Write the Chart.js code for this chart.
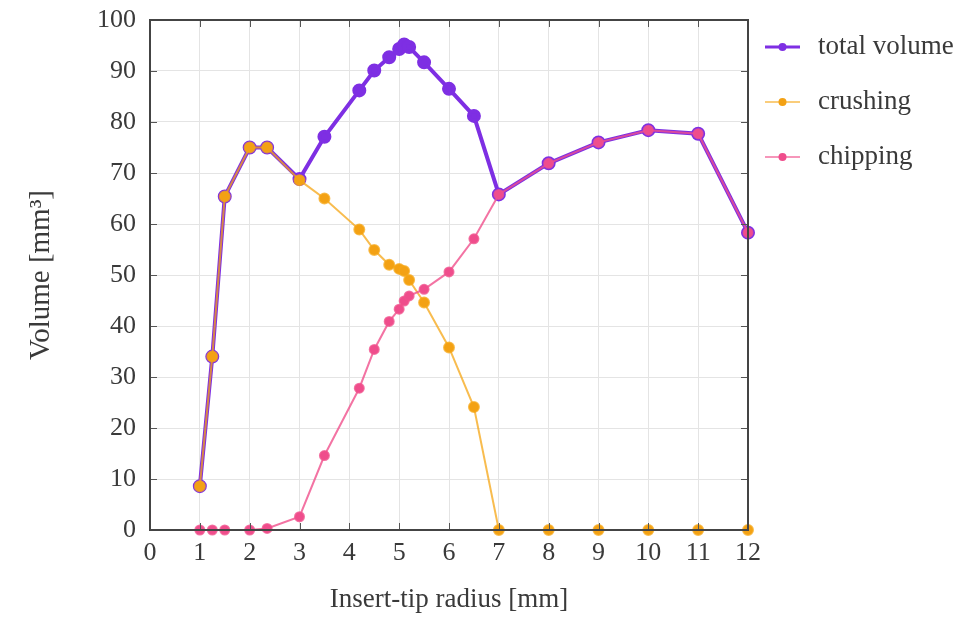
<!DOCTYPE html>
<html>
<head>
<meta charset="utf-8">
<script src="https://cdn.jsdelivr.net/npm/chart.js@4"></script>
<style>
  html, body { margin: 0; padding: 0; background: #ffffff; }
  #wrap { width: 968px; height: 618px; }
</style>
</head>
<body>
<div id="wrap"><canvas id="volChart" width="968" height="618"></canvas></div>
<script>
// insert-tip radius [mm] for every measured point
const radii = [1, 1.25, 1.5, 2, 2.35, 3, 3.5, 4.2, 4.5, 4.8, 5, 5.1, 5.2, 5.5, 6, 6.5, 7, 8, 9, 10, 11, 12];

// volumes [mm^3]
const totalVolume = [8.6, 34, 65.4, 75, 75, 68.8, 77.1, 86.2, 90.1, 92.7, 94.3, 95.2, 94.7, 91.7, 86.5, 81.2, 65.8, 71.9, 76.0, 78.4, 77.7, 58.3];
const crushing    = [8.6, 34, 65.4, 75, 75, 68.6, 65.0, 58.9, 54.9, 52.0, 51.2, 50.8, 49.0, 44.6, 35.8, 24.1, 0, 0, 0, 0, 0, 0];
const chipping    = [0, 0, 0, 0, 0.3, 2.6, 14.6, 27.8, 35.4, 40.9, 43.3, 44.9, 45.9, 47.2, 50.6, 57.1, 65.8, 71.9, 76.0, 78.4, 77.7, 58.3];

const seriesNames = ['total volume', 'crushing', 'chipping'];
const xTicks = [0, 1, 2, 3, 4, 5, 6, 7, 8, 9, 10, 11, 12];
const yTicks = [0, 10, 20, 30, 40, 50, 60, 70, 80, 90, 100];

const FONT = '"Liberation Serif", "DejaVu Serif", serif';
const TEXT = '#3a3a3a';

function toPoints(values) {
    return values.map((v, i) => ({ x: radii[i], y: v }));
}

// frame round the plot plus gnuplot-like inward ticks
const frameAndTicks = {
    id: 'frameAndTicks',
    afterDatasetsDraw(chart) {
        const { ctx, chartArea: a, scales } = chart;
        ctx.save();
        ctx.strokeStyle = '#555';
        ctx.lineWidth = 1;
        xTicks.forEach(t => {
            const px = Math.round(scales.x.getPixelForValue(t)) + 0.5;
            ctx.beginPath();
            ctx.moveTo(px, a.bottom); ctx.lineTo(px, a.bottom - 7);
            ctx.moveTo(px, a.top); ctx.lineTo(px, a.top + 7);
            ctx.stroke();
        });
        yTicks.forEach(t => {
            const py = Math.round(scales.y.getPixelForValue(t)) + 0.5;
            ctx.beginPath();
            ctx.moveTo(a.left, py); ctx.lineTo(a.left + 7, py);
            ctx.moveTo(a.right, py); ctx.lineTo(a.right - 7, py);
            ctx.stroke();
        });
        ctx.lineWidth = 2;
        ctx.strokeStyle = '#444';
        ctx.strokeRect(a.left, a.top, a.right - a.left, a.bottom - a.top);
        ctx.restore();
    }
};

// legend on the right with a line + dot sample for each series
const sideLegend = {
    id: 'sideLegend',
    afterDraw(chart) {
        const { ctx } = chart;
        ctx.save();
        ctx.font = '27px ' + FONT;
        ctx.textBaseline = 'middle';
        chart.data.datasets.forEach((ds, i) => {
            const y = 47 + i * 55;
            const x0 = 765;
            ctx.strokeStyle = ds.borderColor;
            ctx.lineWidth = ds.legendLine;
            ctx.beginPath();
            ctx.moveTo(x0, y); ctx.lineTo(x0 + 35, y);
            ctx.stroke();
            ctx.fillStyle = ds.pointBackgroundColor;
            ctx.beginPath();
            ctx.arc(x0 + 17.5, y, 4, 0, Math.PI * 2);
            ctx.fill();
            ctx.fillStyle = TEXT;
            ctx.fillText(ds.label, 818, y);
        });
        ctx.restore();
    }
};

const ctx = document.getElementById('volChart').getContext('2d');
new Chart(ctx, {
    type: 'line',
    data: {
        datasets: [
            {
                label: seriesNames[0],
                data: toPoints(totalVolume),
                borderColor: '#7e2fe3',
                pointBackgroundColor: '#7e2fe3',
                borderWidth: 4,
                legendLine: 3,
                pointRadius: 5,
                order: 3
            },
            {
                label: seriesNames[1],
                data: toPoints(crushing),
                borderColor: 'rgba(245, 165, 20, 0.75)',
                pointBackgroundColor: '#f3a114',
                borderWidth: 2,
                legendLine: 1.5,
                pointRadius: 5,
                order: 2
            },
            {
                label: seriesNames[2],
                data: toPoints(chipping),
                borderColor: 'rgba(240, 80, 140, 0.8)',
                pointBackgroundColor: '#ef4d8c',
                borderWidth: 2,
                legendLine: 1.5,
                pointRadius: 4.5,
                order: 1
            }
        ]
    },
    options: {
        responsive: false,
        animation: false,
        clip: false,
        layout: { padding: { top: 20, right: 220, bottom: 0, left: 0 } },
        plugins: {
            legend: { display: false },
            tooltip: { enabled: false }
        },
        elements: {
            line: { tension: 0 },
            point: { borderWidth: 0, hoverRadius: 5 }
        },
        scales: {
            x: {
                type: 'linear',
                min: 0,
                max: 12,
                afterBuildTicks: s => { s.ticks = xTicks.map(v => ({ value: v })); },
                afterFit: s => { s.height = 88; s.paddingLeft = 0; s.paddingRight = 0; },
                grid: { color: '#e4e4e4', drawTicks: false },
                border: { display: false },
                ticks: { color: TEXT, font: { family: FONT, size: 26 }, padding: 8, maxRotation: 0 },
                title: { display: true, text: 'Insert-tip radius [mm]', color: TEXT, font: { family: FONT, size: 27 }, padding: { top: 4, bottom: 2 } }
            },
            y: {
                min: 0,
                max: 100,
                afterBuildTicks: s => { s.ticks = yTicks.map(v => ({ value: v })); },
                afterFit: s => { s.width = 150; s.paddingTop = 0; s.paddingBottom = 0; },
                grid: { color: '#e4e4e4', drawTicks: false },
                border: { display: false },
                ticks: { color: TEXT, font: { family: FONT, size: 26 }, padding: 14 },
                title: { display: true, text: 'Volume [mm³]', color: TEXT, font: { family: FONT, size: 29 }, padding: { top: 24, bottom: 4 } }
            }
        }
    },
    plugins: [frameAndTicks, sideLegend]
});
</script>
</body>
</html>
